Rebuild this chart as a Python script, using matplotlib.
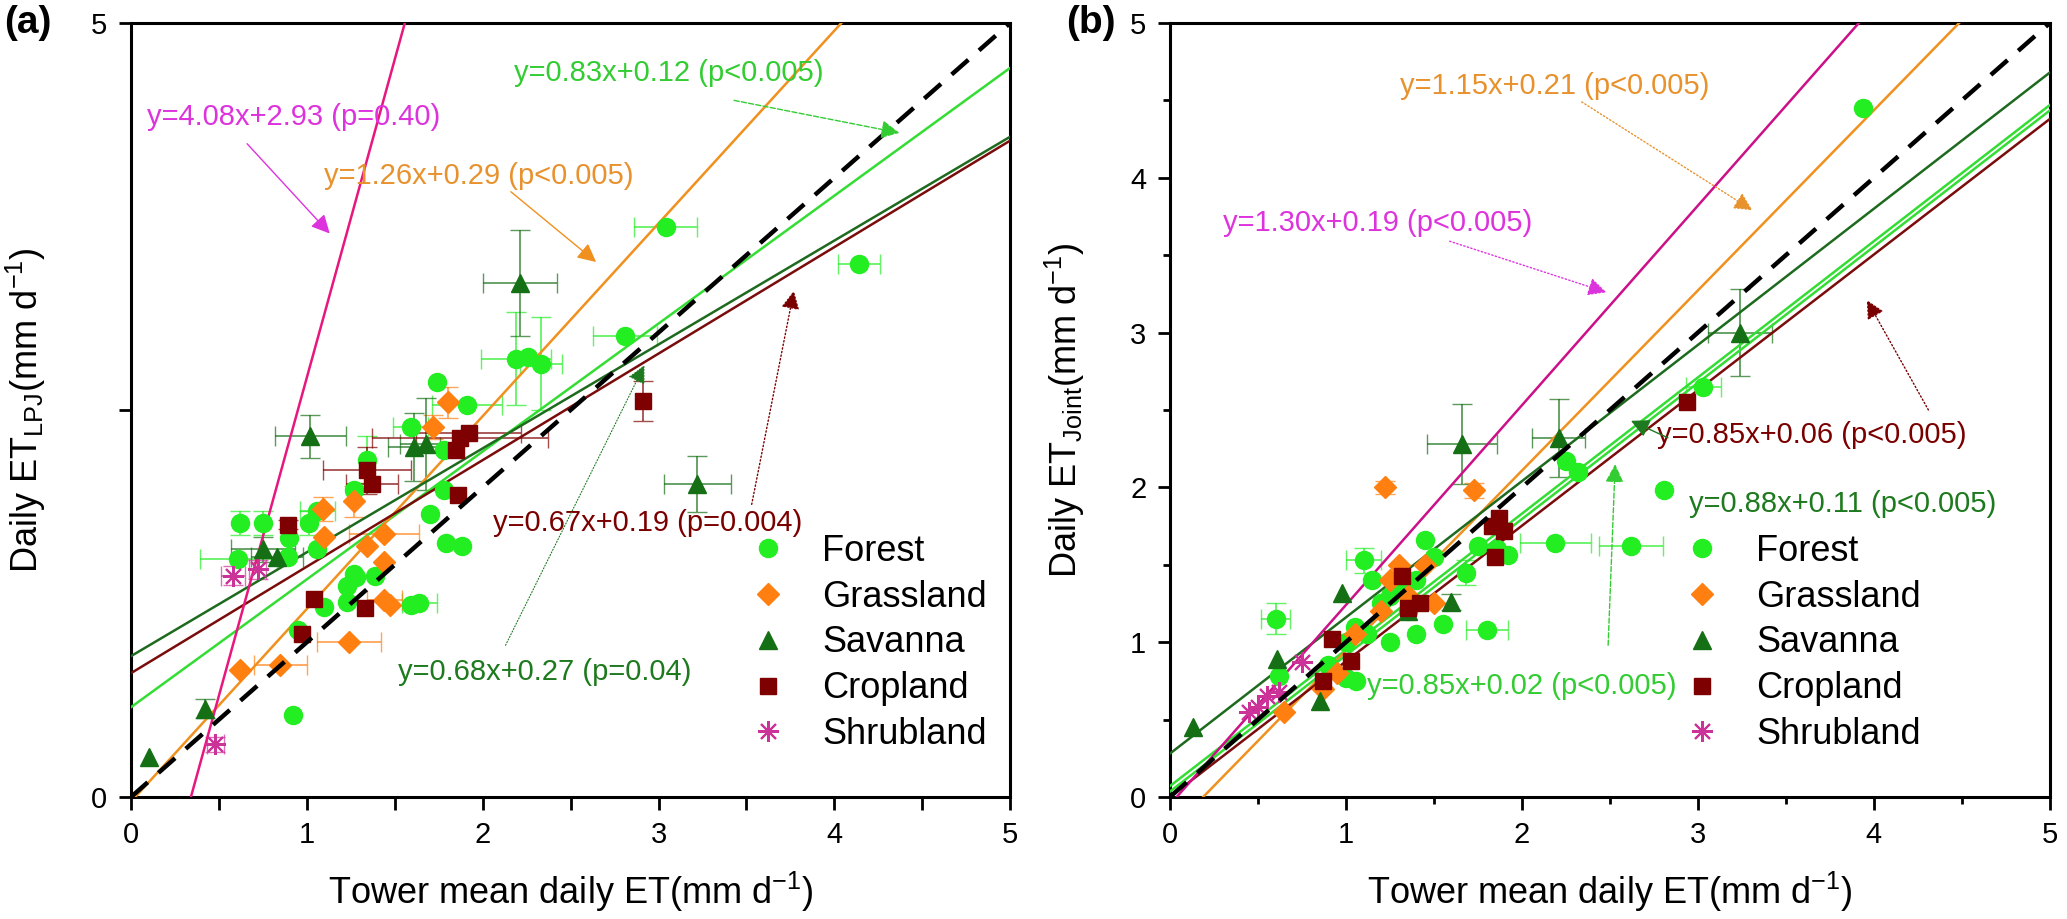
import numpy as np
import matplotlib.pyplot as plt
from matplotlib.ticker import MultipleLocator
from matplotlib.lines import Line2D

plt.rcParams['font.family'] = ['Liberation Sans', 'DejaVu Sans']
plt.rcParams['mathtext.fontset'] = 'custom'
plt.rcParams['mathtext.rm'] = 'Liberation Sans'

CATS = ['Forest', 'Grassland', 'Savanna', 'Cropland', 'Shrubland']

# ---- panel (a): tower ET vs LPJ ET ----
a_forest_x = [3.04, 2.81, 2.19, 2.26, 2.33, 1.74, 1.91, 1.59, 1.78, 1.78, 1.70, 1.79, 1.88, 1.34, 1.27, 1.01, 1.06,
              0.62, 0.75, 0.90, 1.06, 0.61, 0.89, 1.10, 1.23, 1.23, 1.27, 1.28, 1.39, 1.59, 1.64, 4.14, 0.92, 0.95]
a_forest_y = [3.68, 2.98, 2.83, 2.84, 2.80, 2.68, 2.53, 2.39, 2.24, 1.98, 1.83, 1.64, 1.62, 2.18, 1.98, 1.77, 1.85,
              1.77, 1.77, 1.67, 1.60, 1.54, 1.55, 1.23, 1.26, 1.36, 1.44, 1.42, 1.43, 1.24, 1.25, 3.44, 0.53, 1.08]
a_forest_xe = [0.18, 0.18, 0.20, 0, 0.12, 0, 0.20, 0.10, 0, 0, 0, 0, 0, 0, 0, 0, 0.10,
               0, 0, 0, 0, 0.22, 0, 0, 0, 0, 0, 0, 0, 0, 0.10, 0.12, 0, 0]
a_forest_ye = [0, 0, 0.30, 0, 0.30, 0, 0, 0, 0, 0, 0, 0, 0, 0.15, 0, 0.08, 0,
               0.08, 0.08, 0, 0, 0, 0, 0, 0, 0, 0, 0, 0, 0, 0, 0, 0, 0]

a_grass_x = [1.80, 1.72, 1.09, 1.10, 1.27, 1.34, 1.44, 1.44, 1.44, 1.47, 1.24, 0.85, 0.62]
a_grass_y = [2.55, 2.39, 1.86, 1.68, 1.91, 1.62, 1.70, 1.52, 1.27, 1.24, 1.00, 0.85, 0.82]
a_grass_xe = [0, 0, 0, 0, 0, 0, 0.20, 0, 0.10, 0, 0.18, 0.15, 0]
a_grass_ye = [0.10, 0.08, 0.08, 0, 0.10, 0, 0, 0, 0, 0, 0, 0, 0]

a_sav_x = [2.21, 1.61, 1.68, 1.02, 0.75, 0.83, 3.22, 0.42, 0.10]
a_sav_y = [3.32, 2.26, 2.28, 2.33, 1.60, 1.55, 2.02, 0.57, 0.26]
a_sav_xe = [0.21, 0.15, 0.15, 0.20, 0.18, 0.15, 0.19, 0, 0]
a_sav_ye = [0.34, 0.22, 0.30, 0.14, 0.08, 0, 0.18, 0.06, 0]

a_crop_x = [2.91, 1.87, 1.92, 1.85, 1.86, 1.34, 1.37, 0.89, 1.04, 1.33, 0.97]
a_crop_y = [2.56, 2.32, 2.35, 2.24, 1.95, 2.11, 2.02, 1.76, 1.28, 1.22, 1.05]
a_crop_xe = [0, 0.50, 0.30, 0, 0, 0.25, 0.15, 0, 0, 0, 0]
a_crop_ye = [0.13, 0, 0, 0, 0, 0.15, 0, 0.03, 0, 0, 0]

a_shrub_x = [0.58, 0.72, 0.48]
a_shrub_y = [1.43, 1.47, 0.34]
a_shrub_xe = [0.07, 0.05, 0.05]
a_shrub_ye = [0.06, 0.06, 0.05]

# regression lines as drawn (Forest, Grassland, Savanna, Cropland, Shrubland)
a_slope = [0.826, 1.245, 0.671, 0.688, 4.11]
a_icpt = [0.58, -0.03, 0.91, 0.80, -1.40]
a_eq = ['y=0.83x+0.12 (p<0.005)', 'y=1.26x+0.29 (p<0.005)', 'y=0.68x+0.27 (p=0.04)',
        'y=0.67x+0.19 (p=0.004)', 'y=4.08x+2.93 (p=0.40)']

# ---- panel (b): tower ET vs Joint ET ----
b_forest_x = [3.94, 3.03, 2.81, 2.62, 2.25, 2.32, 2.19, 1.80, 1.68, 1.75, 1.86, 1.92, 1.45, 1.50, 1.40, 1.30,
              1.25, 1.35, 1.10, 1.15, 1.20, 1.05, 1.12, 1.00, 1.25, 1.40, 1.55, 0.60, 0.90, 1.06, 1.00, 0.62]
b_forest_y = [4.45, 2.65, 1.98, 1.62, 2.17, 2.10, 1.64, 1.08, 1.45, 1.62, 1.60, 1.56, 1.66, 1.55, 1.40, 1.35,
              1.30, 1.20, 1.53, 1.40, 1.25, 1.10, 1.05, 1.00, 1.00, 1.05, 1.12, 1.15, 0.85, 0.75, 0.77, 0.78]
b_forest_xe = [0, 0.10, 0, 0.18, 0, 0, 0.20, 0.12, 0, 0, 0, 0, 0, 0, 0, 0,
               0, 0, 0.10, 0, 0, 0, 0, 0, 0, 0, 0, 0.08, 0, 0, 0, 0]
b_forest_ye = [0, 0, 0, 0, 0, 0, 0, 0, 0.08, 0, 0, 0, 0, 0, 0, 0,
               0, 0, 0.08, 0, 0, 0, 0, 0, 0, 0, 0, 0.10, 0, 0, 0, 0]

b_grass_x = [1.22, 1.73, 1.30, 1.35, 1.25, 1.45, 1.50, 1.05, 0.95, 0.87, 0.65, 1.20]
b_grass_y = [2.00, 1.98, 1.50, 1.30, 1.40, 1.50, 1.25, 1.05, 0.80, 0.70, 0.55, 1.20]
b_grass_xe = [0] * 12
b_grass_ye = [0.04, 0.05, 0, 0, 0, 0, 0, 0, 0, 0, 0, 0]

b_sav_x = [3.24, 1.66, 2.21, 1.60, 1.35, 0.98, 0.61, 0.13, 0.85]
b_sav_y = [3.00, 2.28, 2.32, 1.26, 1.20, 1.32, 0.89, 0.45, 0.62]
b_sav_xe = [0.18, 0.20, 0.15, 0, 0, 0, 0, 0, 0]
b_sav_ye = [0.28, 0.26, 0.25, 0.05, 0, 0, 0, 0, 0]

b_crop_x = [2.94, 1.87, 1.83, 1.90, 1.85, 1.32, 1.35, 1.42, 0.92, 1.03, 0.87]
b_crop_y = [2.55, 1.80, 1.75, 1.72, 1.55, 1.43, 1.22, 1.25, 1.02, 0.88, 0.75]
b_crop_xe = [0] * 11
b_crop_ye = [0] * 11

b_shrub_x = [0.45, 0.50, 0.55, 0.62, 0.75]
b_shrub_y = [0.55, 0.58, 0.65, 0.68, 0.87]
b_shrub_xe = [0] * 5
b_shrub_ye = [0] * 5

b_slope = [0.88, 1.164, 0.88, 0.876, 1.29]
b_icpt = [0.07, -0.22, 0.28, 0.0, -0.05]
b_all_slope, b_all_icpt = 0.88, 0.035   # second light green line
b_eq = ['y=0.85x+0.02 (p<0.005)', 'y=1.15x+0.21 (p<0.005)', 'y=0.88x+0.11 (p<0.005)',
        'y=0.85x+0.06 (p<0.005)', 'y=1.30x+0.19 (p<0.005)']

# ---- styles ----
mk_color = {'Forest': '#22EE22', 'Grassland': '#FF7F10', 'Savanna': '#157015',
            'Cropland': '#7F0000', 'Shrubland': '#CC3399'}
mk_shape = {'Forest': 'o', 'Grassland': 'D', 'Savanna': '^', 'Cropland': 's', 'Shrubland': (8, 2, 0)}
mk_size = {'Forest': 13, 'Grassland': 11, 'Savanna': 13, 'Cropland': 12, 'Shrubland': 15}
ln_color = {'Forest': '#33DD33', 'Grassland': '#F0901E', 'Savanna': '#1E6A1E',
            'Cropland': '#7A0C0C', 'Shrubland': '#E8177E'}
tx_color = {'Forest': '#33CC33', 'Grassland': '#E8922E', 'Savanna': '#1E7A1E',
            'Cropland': '#7A0000', 'Shrubland': '#DD33DD'}


def draw_points(ax, cat, x, y, xe, ye):
    x, y, xe, ye = map(np.asarray, (x, y, xe, ye))
    c = mk_color[cat]
    m = xe > 0
    if m.any():
        ax.errorbar(x[m], y[m], xerr=xe[m], fmt='none', ecolor=c, elinewidth=1.3,
                    capsize=7, alpha=0.7, zorder=2)
    m = ye > 0
    if m.any():
        ax.errorbar(x[m], y[m], yerr=ye[m], fmt='none', ecolor=c, elinewidth=1.3,
                    capsize=7, alpha=0.7, zorder=2)
    if cat == 'Shrubland':
        ax.plot(x, y, ls='none', marker=mk_shape[cat], ms=mk_size[cat], mec=c, mew=1.5, zorder=4)
    else:
        ax.plot(x, y, ls='none', marker=mk_shape[cat], ms=mk_size[cat], mfc=c, mec=c, zorder=4)


def style_axes(ax, ylabel, ymajor):
    ax.set_xlim(0, 5)
    ax.set_ylim(0, 5)
    ax.xaxis.set_major_locator(MultipleLocator(1))
    ax.xaxis.set_minor_locator(MultipleLocator(0.5))
    ax.yaxis.set_major_locator(MultipleLocator(ymajor))
    ax.yaxis.set_minor_locator(MultipleLocator(0.5 if ymajor == 1 else 2.5))
    ax.tick_params(which='both', direction='out', width=2, labelsize=21, pad=8)
    ax.tick_params(which='major', length=9)
    ax.tick_params(which='minor', length=9 if ymajor == 5 else 5)
    for s in ax.spines.values():
        s.set_linewidth(2.2)
    ax.set_xlabel('Tower mean daily ET(mm d$^{\\mathregular{-1}}$)', fontsize=26, labelpad=15)
    ax.set_ylabel(ylabel, fontsize=26, labelpad=31)


def legend(ax, corner):
    handles = []
    for cat in CATS:
        c = mk_color[cat]
        if cat == 'Shrubland':
            h = Line2D([], [], ls='none', marker=mk_shape[cat], ms=mk_size[cat], mec=c, mew=1.5)
        else:
            h = Line2D([], [], ls='none', marker=mk_shape[cat], ms=mk_size[cat], mfc=c, mec=c)
        handles.append(h)
    ax.legend(handles, CATS, loc='upper left', bbox_to_anchor=corner, bbox_transform=ax.transData,
              frameon=False, fontsize=26, handlelength=1.0, handletextpad=1.0, labelspacing=0.3,
              borderpad=0.0, borderaxespad=0.0)


def arrow(ax, start, end, color, ls='-', lw=1.0):
    ax.annotate('', xy=end, xytext=start,
                arrowprops=dict(arrowstyle='-|>', color=color, lw=lw, linestyle=ls,
                                mutation_scale=28, shrinkA=0, shrinkB=0), zorder=6)


fig = plt.figure(figsize=(20.67, 9.19), dpi=100)
ax1 = fig.add_axes([0.0634, 0.1328, 0.4253, 0.8422])
ax2 = fig.add_axes([0.566, 0.1328, 0.4257, 0.8422])
xs = np.array([0.0, 5.0])

# panel (a)
a_sets = [(a_forest_x, a_forest_y, a_forest_xe, a_forest_ye),
          (a_grass_x, a_grass_y, a_grass_xe, a_grass_ye),
          (a_sav_x, a_sav_y, a_sav_xe, a_sav_ye),
          (a_crop_x, a_crop_y, a_crop_xe, a_crop_ye),
          (a_shrub_x, a_shrub_y, a_shrub_xe, a_shrub_ye)]
for cat, d in zip(CATS, a_sets):
    draw_points(ax1, cat, *d)
for cat, m, b in zip(CATS, a_slope, a_icpt):
    ax1.plot(xs, m * xs + b, color=ln_color[cat], lw=1.8, zorder=3)
ax1.plot(xs, xs, color='black', lw=3.2, dashes=(5, 3.2), zorder=5)

fs_eq = 21
ax1.text(0.09, 4.39, a_eq[4], color=tx_color['Shrubland'], fontsize=fs_eq, va='center')
arrow(ax1, (0.66, 4.22), (1.13, 3.64), tx_color['Shrubland'])
ax1.text(1.10, 4.01, a_eq[1], color=tx_color['Grassland'], fontsize=fs_eq, va='center')
arrow(ax1, (2.16, 3.91), (2.645, 3.456), ln_color['Grassland'])
ax1.text(2.18, 4.68, a_eq[0], color=tx_color['Forest'], fontsize=fs_eq, va='center')
arrow(ax1, (3.43, 4.50), (4.37, 4.29), tx_color['Forest'], ls='--')
ax1.text(2.06, 1.77, a_eq[3], color=tx_color['Cropland'], fontsize=fs_eq, va='center')
arrow(ax1, (3.53, 1.89), (3.77, 3.27), tx_color['Cropland'], ls=':')
ax1.text(1.52, 0.81, a_eq[2], color=tx_color['Savanna'], fontsize=fs_eq, va='center')
arrow(ax1, (2.13, 0.98), (2.92, 2.79), tx_color['Savanna'], ls=':', lw=0.8)

style_axes(ax1, 'Daily ET$_{\\mathregular{LPJ}}$(mm d$^{\\mathregular{-1}}$)', 5)
legend(ax1, (3.52, 1.70))

# panel (b)
b_sets = [(b_forest_x, b_forest_y, b_forest_xe, b_forest_ye),
          (b_grass_x, b_grass_y, b_grass_xe, b_grass_ye),
          (b_sav_x, b_sav_y, b_sav_xe, b_sav_ye),
          (b_crop_x, b_crop_y, b_crop_xe, b_crop_ye),
          (b_shrub_x, b_shrub_y, b_shrub_xe, b_shrub_ye)]
for cat, d in zip(CATS, b_sets):
    draw_points(ax2, cat, *d)
b_line_color = dict(ln_color, Shrubland='#CC1188')
for cat, m, b in zip(CATS, b_slope, b_icpt):
    ax2.plot(xs, m * xs + b, color=b_line_color[cat], lw=1.8, zorder=3)
ax2.plot(xs, b_all_slope * xs + b_all_icpt, color=ln_color['Forest'], lw=1.8, zorder=3)
ax2.plot(xs, xs, color='black', lw=3.2, dashes=(5, 3.2), zorder=5)

ax2.text(1.31, 4.59, b_eq[1], color=tx_color['Grassland'], fontsize=fs_eq, va='center')
arrow(ax2, (2.34, 4.49), (3.31, 3.79), tx_color['Grassland'], ls=':')
ax2.text(2.06, 3.71, b_eq[4], color=tx_color['Shrubland'], fontsize=fs_eq, va='center', ha='right')
arrow(ax2, (1.59, 3.59), (2.48, 3.26), tx_color['Shrubland'], ls=':')
ax2.text(2.77, 2.34, b_eq[3], color=tx_color['Cropland'], fontsize=fs_eq, va='center')
arrow(ax2, (4.31, 2.50), (3.96, 3.21), tx_color['Cropland'], ls=':')
ax2.text(2.95, 1.89, b_eq[2], color=tx_color['Savanna'], fontsize=fs_eq, va='center')
arrow(ax2, (2.83, 2.32), (2.62, 2.43), tx_color['Savanna'])
ax2.text(2.88, 0.72, b_eq[0], color=tx_color['Forest'], fontsize=fs_eq, va='center', ha='right')
arrow(ax2, (2.49, 0.98), (2.53, 2.15), tx_color['Forest'], ls='--')

style_axes(ax2, 'Daily ET$_{\\mathregular{Joint}}$(mm d$^{\\mathregular{-1}}$)', 1)
legend(ax2, (2.92, 1.70))

fig.text(0.002, 0.975, '(a)', fontsize=28, fontweight='bold', va='center', ha='left')
fig.text(0.516, 0.975, '(b)', fontsize=28, fontweight='bold', va='center', ha='left')

fig.savefig('out.png', dpi=100)
